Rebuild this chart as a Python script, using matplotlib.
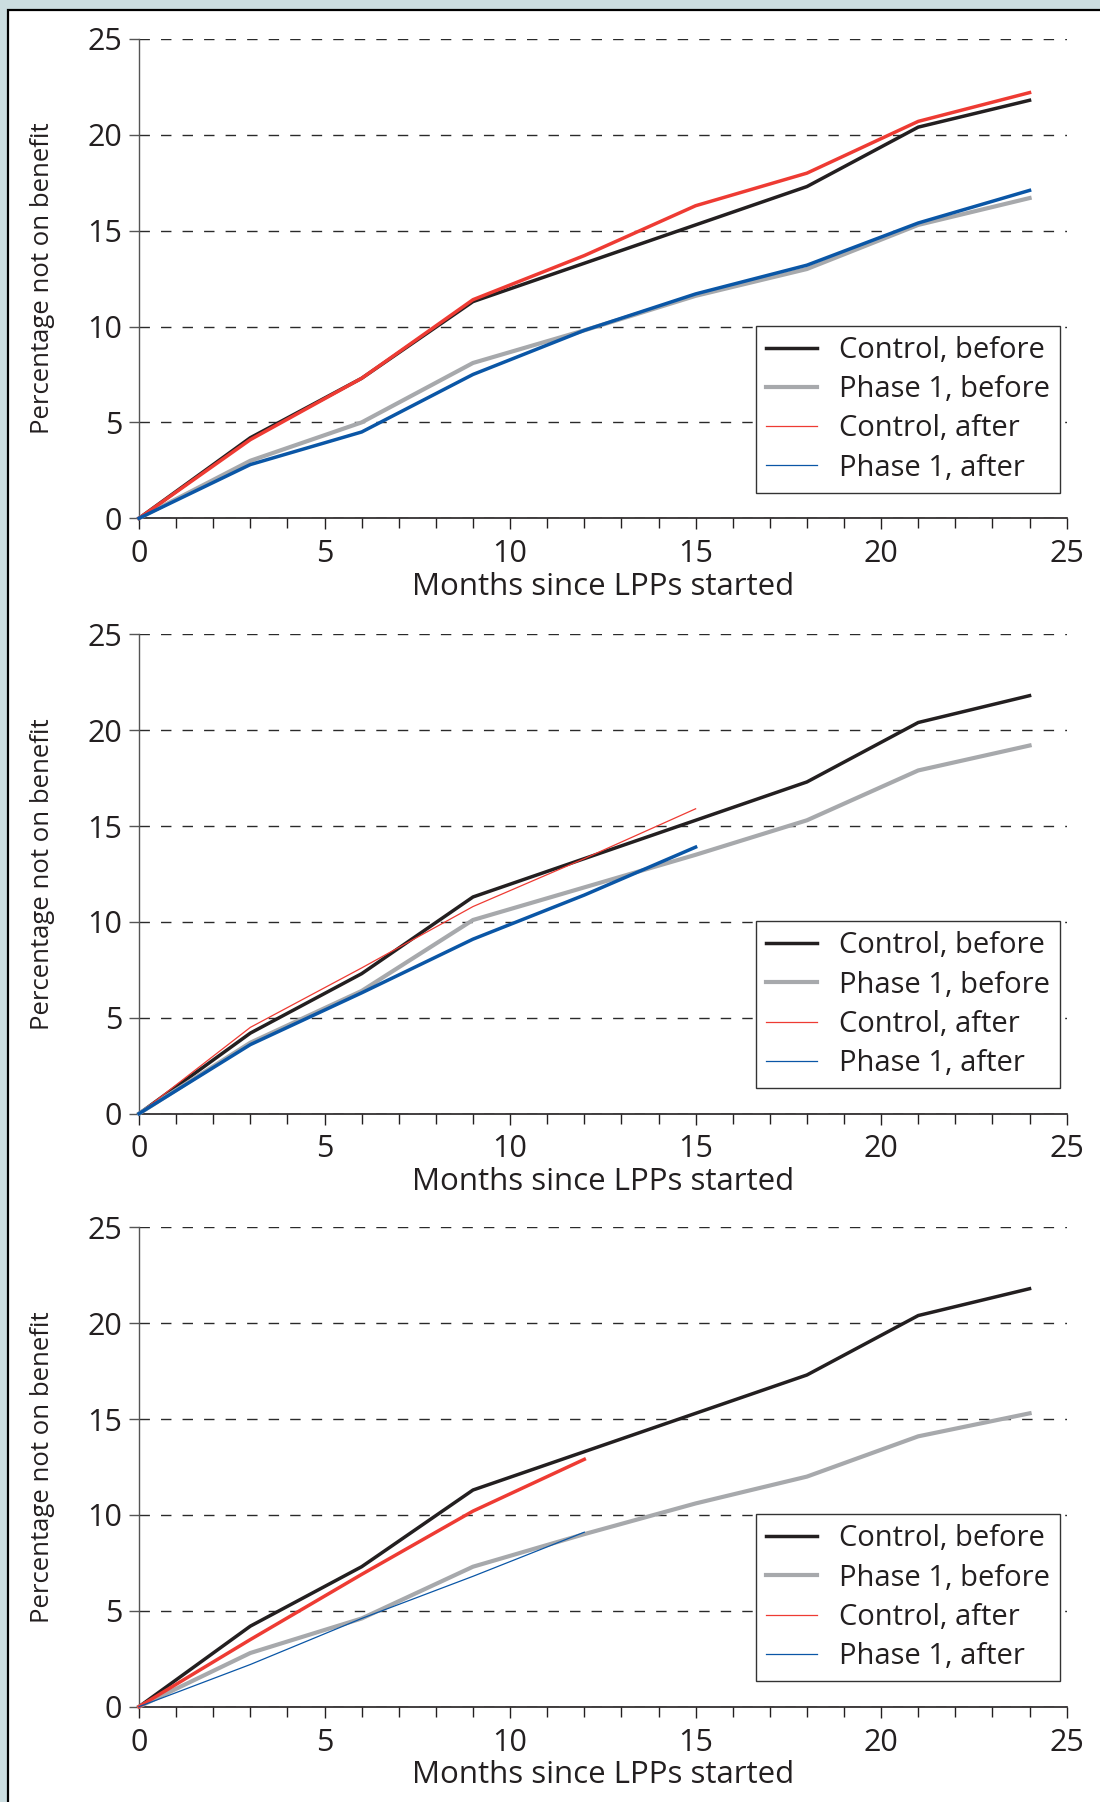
import matplotlib
matplotlib.use("Agg")
import matplotlib.pyplot as plt
from matplotlib.lines import Line2D
from matplotlib.patches import Rectangle
from matplotlib.ticker import MultipleLocator

plt.rcParams["font.family"] = ["Open Sans", "DejaVu Sans"]
plt.rcParams["lines.scale_dashes"] = False

# months since LPPs started
months = [0, 3, 6, 9, 12, 15, 18, 21, 24]

# control group before (same in every panel)
ctrl_before = [0, 4.2, 7.3, 11.3, 13.3, 15.3, 17.3, 20.4, 21.8]

# panel 1
p1_before_a = [0, 3.0, 5.0, 8.1, 9.8, 11.6, 13.0, 15.3, 16.7]
ctrl_after_a = [0, 4.1, 7.3, 11.4, 13.7, 16.3, 18.0, 20.7, 22.2]
p1_after_a = [0, 2.8, 4.5, 7.5, 9.8, 11.7, 13.2, 15.4, 17.1]

# panel 2
p1_before_b = [0, 3.7, 6.4, 10.1, 11.8, 13.5, 15.3, 17.9, 19.2]
ctrl_after_b = [0, 4.5, 7.6, 10.8, 13.3, 15.9]
p1_after_b = [0, 3.6, 6.3, 9.1, 11.4, 13.9]

# panel 3
p1_before_c = [0, 2.8, 4.6, 7.3, 9.0, 10.6, 12.0, 14.1, 15.3]
ctrl_after_c = [0, 3.5, 6.9, 10.2, 12.9]
p1_after_c = [0, 2.2, 4.6, 6.8, 9.1]

labels = ["Control, before", "Phase 1, before", "Control, after", "Phase 1, after"]

BLACK = "#231f20"
GREY = "#a7a9ac"
RED = "#ee3b33"
BLUE = "#0a56a6"
THICK = 2.5
THIN = 0.9

panels = [
    (p1_before_a, ctrl_after_a, p1_after_a, THICK, THICK),
    (p1_before_b, ctrl_after_b, p1_after_b, THIN, THICK),
    (p1_before_c, ctrl_after_c, p1_after_c, THICK, THIN),
]

fig = plt.figure(figsize=(11, 18.02), dpi=100)
fig.patch.set_facecolor("#cbdde0")
fig.add_artist(Rectangle((8 / 1100, -0.01), 1.05, 1.01 - 10 / 1802,
                         transform=fig.transFigure, facecolor="white",
                         edgecolor="black", linewidth=1.6, zorder=-10))

left, width, height = 0.1264, 0.8433, 0.266
bottoms = [0.7124, 0.382, 0.0529]

for (p1b, ca, pa, ca_lw, pa_lw), b in zip(panels, bottoms):
    ax = fig.add_axes([left, b, width, height])
    ax.set_facecolor("none")
    ax.plot(months, ctrl_before, color=BLACK, lw=THICK, clip_on=False, zorder=3)
    ax.plot(months, p1b, color=GREY, lw=3.0, clip_on=False, zorder=3)
    ax.plot(months[:len(ca)], ca, color=RED, lw=ca_lw, clip_on=False, zorder=4)
    ax.plot(months[:len(pa)], pa, color=BLUE, lw=pa_lw, clip_on=False, zorder=4)

    ax.set_xlim(0, 25)
    ax.set_ylim(0, 25)
    ax.xaxis.set_major_locator(MultipleLocator(5))
    ax.xaxis.set_minor_locator(MultipleLocator(1))
    ax.yaxis.set_major_locator(MultipleLocator(5))
    ax.yaxis.grid(True, linestyle=(0, (7.5, 8)), color="#2a2a2a", lw=1.0)
    ax.set_axisbelow(True)

    for s in ("top", "right"):
        ax.spines[s].set_visible(False)
    ax.spines["left"].set_color("#555555")
    ax.spines["left"].set_linewidth(1.0)
    ax.spines["bottom"].set_color(BLACK)
    ax.spines["bottom"].set_linewidth(1.2)

    ax.tick_params(axis="x", which="major", length=8, width=1.0, color=BLACK,
                   labelsize=22, labelcolor=BLACK, pad=7)
    ax.tick_params(axis="x", which="minor", length=7, width=1.0, color=BLACK)
    ax.tick_params(axis="y", length=7, width=1.0, color="#555555",
                   labelsize=22, labelcolor=BLACK, pad=5)

    ax.set_xlabel("Months since LPPs started", fontsize=22.5, color=BLACK, labelpad=2)
    ax.set_ylabel("Percentage not on benefit", fontsize=18.5, color=BLACK, labelpad=23)

    handles = [
        Line2D([], [], color=BLACK, lw=THICK),
        Line2D([], [], color=GREY, lw=3.0),
        Line2D([], [], color=RED, lw=THIN),
        Line2D([], [], color=BLUE, lw=THIN),
    ]
    leg = ax.legend(handles, labels, loc="lower right", bbox_to_anchor=(0.993, 0.053),
                    fontsize=21, frameon=True, fancybox=False, framealpha=1,
                    edgecolor="#333333", handlelength=1.75, handletextpad=0.75,
                    labelspacing=0.35, borderpad=0.35, borderaxespad=0)
    leg.get_frame().set_linewidth(1.0)
    leg.set_zorder(5)
    for t in leg.get_texts():
        t.set_color(BLACK)

fig.savefig("out.png", dpi=100)
